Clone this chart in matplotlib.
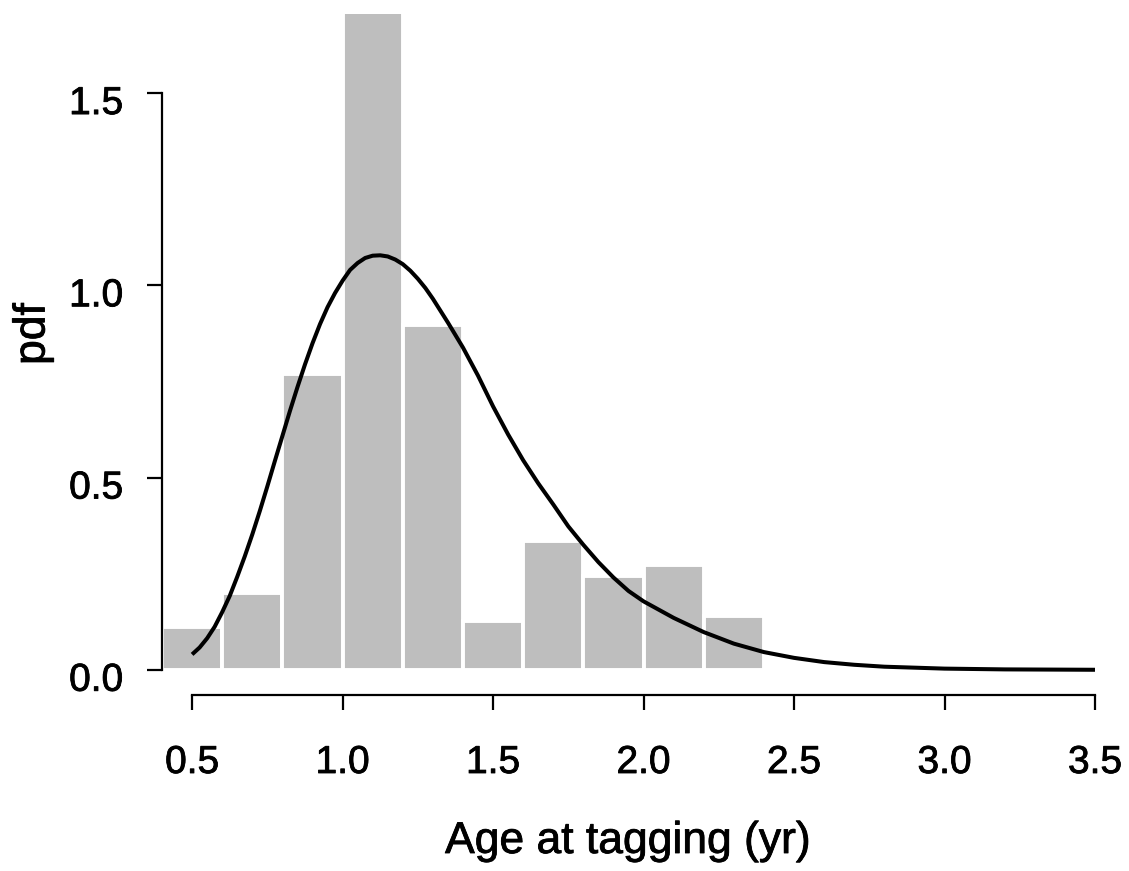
import matplotlib
matplotlib.use("Agg")
import matplotlib.pyplot as plt
import matplotlib.transforms as mtransforms
import matplotlib.patheffects as pe

# Histogram (density) bins of width 0.2
bin_left = [0.4, 0.6, 0.8, 1.0, 1.2, 1.4, 1.6, 1.8, 2.0, 2.2, 3.0]
bin_height = [0.110, 0.199, 0.769, 1.89, 0.896, 0.127, 0.336, 0.245, 0.273, 0.141, 0.009]
bin_width = 0.2

# Fitted density curve
curve_x = [0.500, 0.525, 0.550, 0.575, 0.600, 0.625, 0.650, 0.675, 0.700, 0.725,
           0.750, 0.775, 0.800, 0.825, 0.850, 0.875, 0.900, 0.925, 0.950, 0.975,
           1.000, 1.025, 1.050, 1.075, 1.100, 1.125, 1.150, 1.175, 1.200, 1.225,
           1.250, 1.275, 1.300, 1.350, 1.400, 1.450, 1.500, 1.550, 1.600, 1.650,
           1.700, 1.750, 1.800, 1.850, 1.900, 1.950, 2.000, 2.100, 2.200, 2.300,
           2.400, 2.500, 2.600, 2.700, 2.800, 3.000, 3.200, 3.500]
curve_y = [0.040, 0.058, 0.082, 0.112, 0.150, 0.192, 0.242, 0.295, 0.352, 0.413,
           0.477, 0.543, 0.608, 0.673, 0.735, 0.794, 0.849, 0.899, 0.943, 0.980,
           1.012, 1.040, 1.058, 1.071, 1.077, 1.078, 1.075, 1.067, 1.055, 1.038,
           1.017, 0.993, 0.965, 0.903, 0.838, 0.765, 0.685, 0.612, 0.545, 0.485,
           0.430, 0.373, 0.325, 0.280, 0.240, 0.205, 0.178, 0.135, 0.098, 0.068,
           0.046, 0.031, 0.020, 0.013, 0.008, 0.003, 0.001, 0.000]

x_ticks = [0.5, 1.0, 1.5, 2.0, 2.5, 3.0, 3.5]
x_tick_labels = ["0.5", "1.0", "1.5", "2.0", "2.5", "3.0", "3.5"]
y_ticks = [0.0, 0.5, 1.0, 1.5]
y_tick_labels = ["0.0", "0.5", "1.0", "1.5"]

plt.rcParams['font.family'] = ['Liberation Sans', 'DejaVu Sans']

fig = plt.figure(figsize=(11.29, 8.71), dpi=100)
ax = fig.add_axes([162/1129, 1 - 695/871, (1095 - 162)/1129, (695 - 14)/871])

ax.bar(bin_left, bin_height, width=bin_width, align='edge',
       color='#bebebe', edgecolor='white', linewidth=2.8, zorder=1)
ax.plot(curve_x, curve_y, color='black', linewidth=2.9, zorder=3,
        solid_capstyle='butt', solid_joinstyle='round')

ax.set_xlim(0.4, 3.5)
ax.set_ylim(-0.0656, 1.7056)

for s in ['top', 'right']:
    ax.spines[s].set_visible(False)
ax.spines['left'].set_bounds(0.0, 1.5)
ax.spines['bottom'].set_bounds(0.5, 3.5)
for s in ['left', 'bottom']:
    ax.spines[s].set_linewidth(1.6)

ax.set_xticks(x_ticks)
ax.set_xticklabels(x_tick_labels)
ax.set_yticks(y_ticks)
ax.set_yticklabels(y_tick_labels)
ax.tick_params(axis='both', direction='out', length=11, width=1.6,
               labelsize=28, color='black')
ax.tick_params(axis='x', pad=25)
ax.tick_params(axis='y', pad=17)

stroke = [pe.withStroke(linewidth=0.6, foreground='black')]
offset = mtransforms.ScaledTranslation(0, -7/100, fig.dpi_scale_trans)
for lab in ax.get_yticklabels():
    lab.set_transform(lab.get_transform() + offset)
    lab.set_path_effects(stroke)
for lab in ax.get_xticklabels():
    lab.set_path_effects(stroke)

fig.text(628/1129, 1 - 853/871, "Age at tagging (yr)", ha='center',
         va='baseline', fontsize=32, path_effects=stroke)
fig.text(33/1129, 1 - 334/871, "pdf", ha='center', va='center',
         rotation=90, fontsize=32, path_effects=stroke)

fig.savefig("out.png", dpi=100)
